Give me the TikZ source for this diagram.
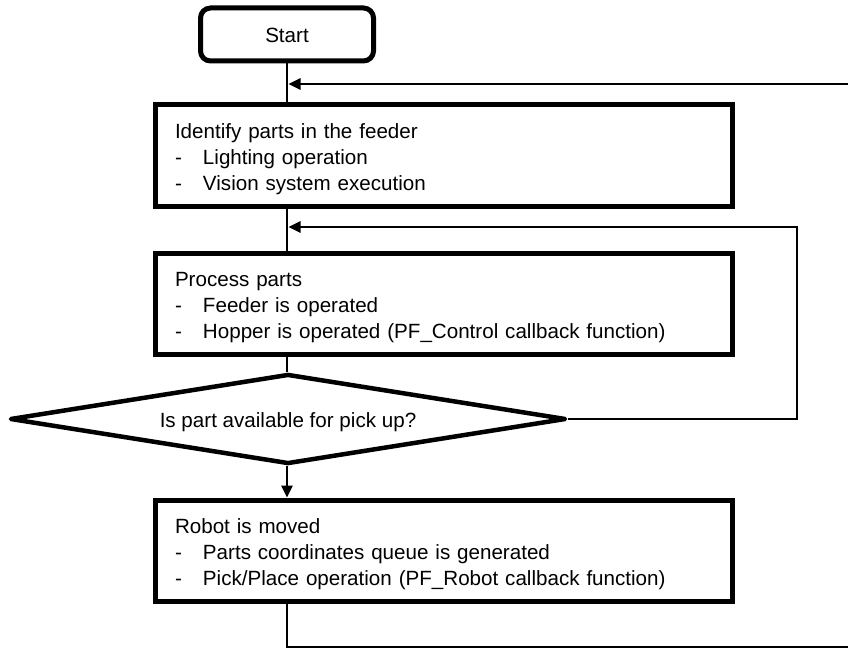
\documentclass[tikz,border=0pt]{standalone}
\usepackage{fontspec}
\setmainfont{Liberation Sans}
\usetikzlibrary{shapes.geometric,arrows.meta}
\begin{document}
\begin{tikzpicture}[x=1pt,y=-1pt,
  every node/.style={font=\fontsize{20.6}{26}\selectfont},
  procbox/.style={draw,line width=5pt,minimum width=577pt,minimum height=101pt,
    inner xsep=19.5pt,inner ysep=0pt,text width=538pt,align=left},
  startbox/.style={draw,line width=5pt,rounded corners=10pt,minimum width=173pt,minimum height=53pt},
  decbox/.style={draw,shape=diamond,line width=4.5pt,line join=round,minimum width=556pt,minimum height=90pt,inner sep=0pt,aspect=6.2},
  conn/.style={line width=2.5pt},
  arr/.style={-{Triangle[length=12pt,width=11pt]}}]
\useasboundingbox (0,0) rectangle (848,650);
\clip (0,0) rectangle (848,650);
\newcommand{\itm}[1]{\makebox[28pt][l]{-}#1}
\newcommand{\tstrut}{\rule{0pt}{23pt}}
\newcommand{\shiftdn}[2]{\raisebox{-#1}[\height][\depth]{#2}}
\coordinate (ax) at (287,0);
\node[startbox] (start) at (287,34.5) {\shiftdn{1pt}{Start}};
\node[procbox] (b1) at (444,155.5) {\tstrut Identify parts in the feeder\\ \itm{Lighting operation}\\ \itm{Vision system execution}};
\node[procbox] (b2) at (444,303.5) {\tstrut Process parts\\ \itm{Feeder is operated}\\ \itm{Hopper is operated (PF\_Control callback function)}};
\node[decbox] (dec) at (288,419) {\shiftdn{3pt}{Is part available for pick up?}};
\node[procbox] (b3) at (444,550.5) {\tstrut Robot is moved\\ \itm{Parts coordinates queue is generated}\\ \itm{Pick/Place operation (PF\_Robot callback function)}};
\coordinate (j1) at (288.5,84);
\coordinate (j2) at (288.5,227);
\coordinate (r2) at (797,419);
\coordinate (bl) at (287,647);
\coordinate (br) at (880,647);
\draw[conn] (start.south) -- (start.south |- b1.north);
\draw[conn] (ax |- b1.south) -- (ax |- b2.north);
\draw[conn] (ax |- b2.south) -- (ax |- dec.north);
\draw[conn,arr] (ax |- dec.south) -- (ax |- b3.north);
\draw[conn,arr] (dec.east) -- (r2) |- (j2);
\draw[conn,arr] (ax |- b3.south) -- (bl) -- (br) |- (j1);
\end{tikzpicture}
\end{document}
